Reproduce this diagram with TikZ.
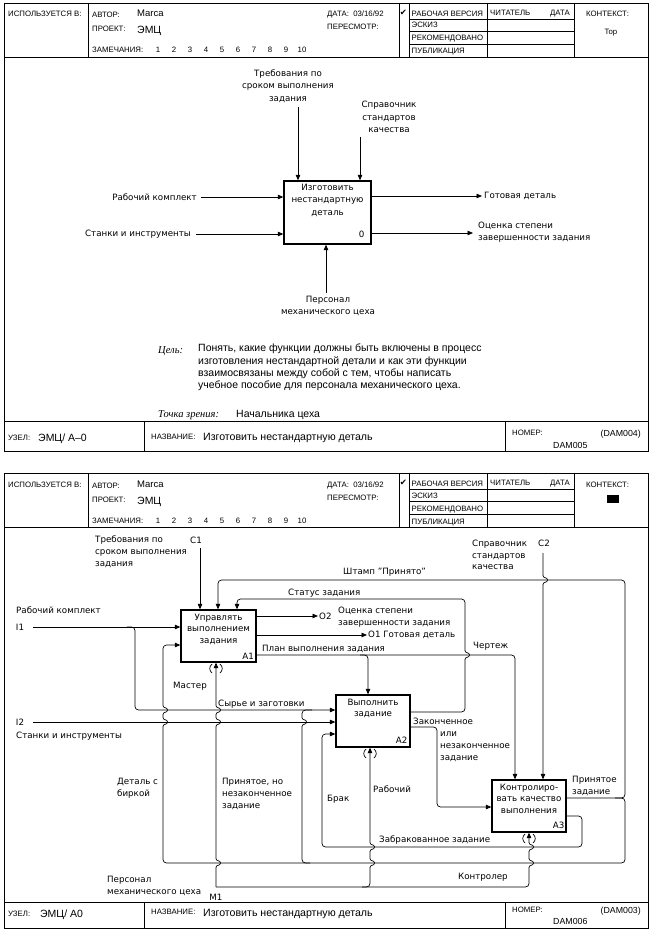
\documentclass[tikz,border=0pt]{standalone}
\usepackage{fontspec}
\setmainfont{DejaVu Sans}
\newfontfamily\formfont{Liberation Sans}
\newfontfamily\notefont{Liberation Serif}
\usetikzlibrary{arrows.meta,positioning}

\tikzset{
  frame/.style={line width=0.8pt},
  box/.style={draw, line width=1.3pt, inner sep=0pt},
  boxtext/.style={font=\fontsize{8.7}{11.5}\selectfont, align=center, inner sep=0pt},
  lab/.style={font=\fontsize{8.7}{11.8}\selectfont, align=left, inner sep=0pt},
  hdr/.style={font=\formfont\fontsize{7.8}{8}\selectfont, inner sep=0pt, anchor=base west},
  big/.style={font=\formfont\fontsize{9.5}{10}\selectfont, inner sep=0pt, anchor=base west},
  note/.style={font=\formfont\fontsize{10.5}{12.3}\selectfont, inner sep=0pt, align=left},
  flow/.style={line width=0.7pt, rounded corners=3.5pt, -{Triangle[length=5.5pt,width=4.5pt]}},
  pipe/.style={line width=0.7pt, rounded corners=3.5pt},
  hopup/.style 2 args={insert path={[sharp corners] -- (#1,#2+4.5) .. controls (#1,#2+1.5) and (#1+4.5,#2+3) .. (#1+4.5,#2)
      .. controls (#1+4.5,#2-3) and (#1,#2-1.5) .. (#1,#2-4.5) [rounded corners=3.5pt]}},
  hopdown/.style 2 args={insert path={[sharp corners] -- (#1,#2-4.5) .. controls (#1,#2-1.5) and (#1+4.5,#2-3) .. (#1+4.5,#2)
      .. controls (#1+4.5,#2+3) and (#1,#2+1.5) .. (#1,#2+4.5) [rounded corners=3.5pt]}},
}
\newcommand\tunnelmark[2]{%
  \draw[line width=0.7pt] (#1-4,#2+2) .. controls (#1-7,#2+4.5) and (#1-7,#2+8.5) .. (#1-4,#2+11);
  \draw[line width=0.7pt] (#1+4,#2+2) .. controls (#1+7,#2+4.5) and (#1+7,#2+8.5) .. (#1+4,#2+11);}

\begin{document}
\begin{tikzpicture}[x=1pt,y=-1pt]
\useasboundingbox (0,0) rectangle (657,933);

% forms
\draw[frame] (4,3) rectangle (648,451);
\draw[frame] (4,421) -- (648,421) (144,421) -- (144,451) (505,421) -- (505,451);
\draw[frame] (4,473) rectangle (648,928);
\draw[frame] (4,902) -- (648,902) (144,902) -- (144,928) (505,902) -- (505,928);

\foreach \t in {3,473}{
  \draw[frame] (4,\t+54) -- (648,\t+54);
  \foreach \c in {88,399,409,487,574} \draw[frame] (\c,\t) -- (\c,\t+54);
  \foreach \r in {16,28,41} \draw[frame] (409,\t+\r) -- (574,\t+\r);
  \node[hdr] (used\t) at (8,\t+14) {ИСПОЛЬЗУЕТСЯ В:};
  \node[hdr] (auth\t) at (92,\t+15) {АВТОР:};
  \node[big] (marca\t) at (137,\t+14) {Marca};
  \node[hdr] (proj\t) at (92,\t+29) {ПРОЕКТ:};
  \node[big, font=\formfont\fontsize{10.5}{11}\selectfont] (emc\t) at (137,\t+31) {ЭМЦ};
  \node[hdr] (notes\t) at (92,\t+50) {ЗАМЕЧАНИЯ:};
  \foreach \n in {1,...,10} \node[hdr, anchor=base] (n\n-\t) at (142+16*\n,\t+50) {\n};
  \node[hdr] (date\t) at (327,\t+14) {ДАТА:\ \ 03/16/92};
  \node[hdr] (rev\t) at (327,\t+27) {ПЕРЕСМОТР:};
  \node[font=\fontsize{8.5}{9}\selectfont, inner sep=0pt] (chk\t) at (403.5,\t+9.5) {✔};
  \node[hdr] (s1\t) at (411.5,\t+13.5) {РАБОЧАЯ ВЕРСИЯ};
  \node[hdr] (s2\t) at (411.5,\t+25) {ЭСКИЗ};
  \node[hdr] (s3\t) at (411.5,\t+38) {РЕКОМЕНДОВАНО};
  \node[hdr] (s4\t) at (411.5,\t+51) {ПУБЛИКАЦИЯ};
  \node[hdr] (rd\t) at (490,\t+12.5) {ЧИТАТЕЛЬ};
  \node[hdr] (rdd\t) at (550,\t+12.5) {ДАТА};
  \node[hdr] (ctx\t) at (586,\t+14) {КОНТЕКСТ:};
}
\node[font=\formfont\fontsize{7.8}{8}\selectfont, inner sep=0pt] (top) at (611,33) {Top};
\fill (607,495) rectangle (619,503);

% footers
\node[hdr] (node1) at (8,440) {УЗЕЛ:};
\node[big, font=\formfont\fontsize{10.5}{11}\selectfont] (nodeid1) at (38,441) {ЭМЦ/ A–0};
\node[hdr] (name1) at (151,439) {НАЗВАНИЕ:};
\node[big, font=\formfont\fontsize{10.6}{11}\selectfont] (title1) at (203,440) {Изготовить нестандартную деталь};
\node[hdr] (num1) at (512,435) {НОМЕР:};
\node[big, anchor=base east, font=\formfont\fontsize{8.8}{9}\selectfont] (dam1) at (641,436) {(DAM004)};
\node[big, font=\formfont\fontsize{8.8}{9}\selectfont] (damb1) at (553,448) {DAM005};
\node[hdr] (node2) at (8,916) {УЗЕЛ:};
\node[big, font=\formfont\fontsize{10.5}{11}\selectfont] (nodeid2) at (40,917) {ЭМЦ/ A0};
\node[hdr] (name2) at (151,914) {НАЗВАНИЕ:};
\node[big, font=\formfont\fontsize{10.6}{11}\selectfont] (title2) at (203,916) {Изготовить нестандартную деталь};
\node[hdr] (num2) at (512,912) {НОМЕР:};
\node[big, anchor=base east, font=\formfont\fontsize{8.8}{9}\selectfont] (dam2) at (641,913) {(DAM003)};
\node[big, font=\formfont\fontsize{8.8}{9}\selectfont] (damb2) at (553,924) {DAM006};

% A-0
\node[box, minimum width=87pt, minimum height=63pt] (A0) at (327.5,212.5) {};
\node[boxtext, font=\fontsize{8.7}{12.5}\selectfont, below=3.5pt of A0.north] (A0t) {Изготовить\\нестандартную\\деталь};
\node[lab, anchor=base east] (A0n) at ([xshift=-7pt,yshift=7.5pt]A0.south east) {0};
\coordinate (t1) at (298,107);
\coordinate (t2) at (360,137);
\draw[flow] (t1) -- (t1 |- A0.north);
\draw[flow] (t2) -- (t2 |- A0.north);
\coordinate (i1) at (201,197);
\coordinate (i2) at (196,234);
\draw[flow] (i1) -- (i1 -| A0.west);
\draw[flow] (i2) -- (i2 -| A0.west);
\coordinate (o1) at (482,196);
\coordinate (o2) at (473,233);
\draw[flow] (o1 -| A0.east) -- (o1);
\draw[flow] (o2 -| A0.east) -- (o2);
\coordinate (m0) at (326,293);
\draw[flow] (m0) -- (m0 |- A0.south);
\node[lab, align=center, font=\fontsize{8.7}{12.5}\selectfont] (lt1) at (288,86) {Требования по\\сроком выполнения\\задания};
\node[lab, align=center, font=\fontsize{8.7}{12.5}\selectfont] (lt2) at (389,117) {Справочник\\стандартов\\качества};
\node[lab, anchor=east] (li1) at ([xshift=-4pt]i1) {Рабочий комплект};
\node[lab, anchor=east] (li2) at ([xshift=-5pt]i2) {Станки и инструменты};
\node[lab, anchor=west] (lo1) at ([xshift=2pt]o1) {Готовая деталь};
\node[lab, anchor=west] (lo2) at (478,232) {Оценка степени\\завершенности задания};
\node[lab, align=center] (lm0) at (328,306) {Персонал\\механического цеха};
\node[anchor=base west, inner sep=0pt, font=\notefont\itshape\fontsize{10.5}{11}\selectfont] (goal) at (158,353) {Цель:};
\node[note, anchor=north west] (goaltext) at (198,344) {Понять, какие функции должны быть включены в процесс\\изготовления нестандартной детали и как эти функции\\взаимосвязаны между собой с тем, чтобы написать\\учебное пособие для персонала механического цеха.};
\node[anchor=base west, inner sep=0pt, font=\notefont\itshape\fontsize{10.5}{11}\selectfont] (view) at (158,417) {Точка зрения:};
\node[note, anchor=base west] (viewtext) at (236,417) {Начальника цеха};

% A0
\node[box, minimum width=75pt, minimum height=52pt] (A1) at (218.5,636) {};
\node[box, minimum width=74pt, minimum height=52pt] (A2) at (373,721) {};
\node[box, minimum width=74pt, minimum height=52pt] (A3) at (529,806) {};
\node[boxtext, below=4.5pt of A1.north] (A1t) {Управлять\\выполнением\\задания};
\node[boxtext, below=4.5pt of A2.north] (A2t) {Выполнить\\задание};
\node[boxtext, below=4.5pt of A3.north] (A3t) {Контролиро-\\вать качество\\выполнения};
\node[lab, anchor=base east] (A1n) at ([xshift=-2.5pt,yshift=3pt]A1.south east) {A1};
\node[lab, anchor=base east] (A2n) at ([xshift=-3pt,yshift=4pt]A2.south east) {A2};
\node[lab, anchor=base east] (A3n) at ([xshift=-2pt,yshift=4.5pt]A3.south east) {A3};

\coordinate (c1) at (200,548);
\draw[flow] (c1) -- (c1 |- A1.north);
\node[lab] (lc1) at (196,540) {C1};
\node[lab, anchor=west] (lreq) at (95,552) {Требования по\\сроком выполнения\\задания};
\coordinate (c2) at (543,553);
\draw[flow] (c2) [hopdown={543}{580}] -- (c2 |- A3.north);
\node[lab] (lc2) at (544,543) {C2};
\node[lab, anchor=west] (lref) at (472,555) {Справочник\\стандартов\\качества};

\coordinate (in1) at (33,627);
\draw[flow] (in1) -- (in1 -| A1.west);
\node[lab] (lin1) at (20,627) {I1};
\node[lab, anchor=base west] (lkit) at (16,613) {Рабочий комплект};
\coordinate (raw) at (135,710);
\draw[flow] (127,627) -- (raw |- in1) -- (raw) -- (raw -| A2.west);
\node[lab, anchor=base west] (lraw) at (218,706) {Сырье и заготовки};
\coordinate (in2) at (33,722);
\draw[flow] (in2) -- (in2 -| A2.west);
\node[lab] (lin2) at (20,722) {I2};
\node[lab, anchor=base west] (ltools) at (16,738) {Станки и инструменты};

\coordinate (out2) at (318,616);
\coordinate (out1) at (367,635);
\draw[flow] (out2 -| A1.east) -- (out2);
\draw[flow] (out1 -| A1.east) -- (out1);
\node[lab, anchor=west] (lout2) at (319,616) {O2};
\node[lab, anchor=west] (lgrade) at (338,617) {Оценка степени\\завершенности задания};
\node[lab, anchor=west] (lout1) at (368,635) {O1 Готовая деталь};

\coordinate (plan) at (515,655);
\coordinate (job) at (368,655);
\draw[flow] (plan -| A1.east) -- (plan) -- (plan |- A3.north);
\draw[flow] (360,655) -- (job) -- (job |- A2.north);
\node[lab, anchor=base west] (lplan) at (262,651) {План выполнения задания};
\node[lab, anchor=base west] (ldraw) at (473,648) {Чертеж};

\coordinate (st) at (465,599);
\draw[flow] (A2.east |- 0,712) -- (465,712) -- (465,680) [hopup={465}{655}] -- (st) -- (237,599) -- (237,599 |- A1.north);
\node[lab, anchor=base west] (lst) at (288,595) {Статус задания};

\coordinate (acc) at (625,798);
\draw[flow] (A3.east |- acc) -- (acc) -- (625,580) -- (218,580) -- (218,580 |- A1.north);
\draw[flow] (615,798) -- (acc) -- (625,863) -- (163,863) -- (163,760) [hopup={163}{722}] [hopup={163}{710}] -- (163,645) -- (163,645 -| A1.west);
\draw[pipe] (310,863) -- (302,863) -- (302,760) [hopup={302}{722}] -- (302,710) -- (312,710);
\node[lab, anchor=base west] (lstamp) at (343,574) {Штамп "Принято"};
\node[lab, anchor=west] (lacc) at (572,786) {Принятое\\задание};
\node[lab, anchor=west] (ltag) at (117,788) {Деталь с\\биркой};
\node[lab, anchor=west] (lpart) at (222,794) {Принятое, но\\незаконченное\\задание};

\coordinate (done) at (437,727);
\draw[flow] (A2.east |- done) -- (done) -- (437,807) -- (437,807 -| A3.west);
\node[lab, anchor=base west] (ldone) at (413,724) {Законченное};
\node[lab, anchor=west] (ldone2) at (440,747) {или\\незаконченное\\задание};

\coordinate (rej) at (582,847);
\draw[flow] (A3.east |- 0,816) -- (582,816) -- (rej) -- (322,847) -- (322,734) -- (322,734 -| A2.west);
\node[lab, anchor=base west] (lrej) at (379,842) {Забракованное задание};
\node[lab, anchor=base west] (lbrak) at (327,801) {Брак};

\coordinate (m1) at (216,887);
\draw[flow] (m1) [hopup={216}{863}] [hopup={216}{722}] [hopup={216}{710}] -- (m1 |- A1.south);
\draw[flow] (m1) -- (529,887) -- (529,876) [hopup={529}{863}] [hopup={529}{847}] -- (529,887 |- A3.south);
\draw[flow] (362,887) -- (370,887) -- (370,876) [hopup={370}{863}] [hopup={370}{847}] -- (370,887 |- A2.south);
\tunnelmark{216}{662}
\tunnelmark{370}{747}
\tunnelmark{529}{832}
\node[lab, anchor=west] (lmaster) at (173,686) {Мастер};
\node[lab, anchor=west] (lworker) at (373,789) {Рабочий};
\node[lab, anchor=west] (lctrl) at (458,877) {Контролер};
\node[lab] (lm1) at (216,897) {M1};
\node[lab, anchor=west] (lstaff) at (107,886) {Персонал\\механического цеха};
\end{tikzpicture}
\end{document}
